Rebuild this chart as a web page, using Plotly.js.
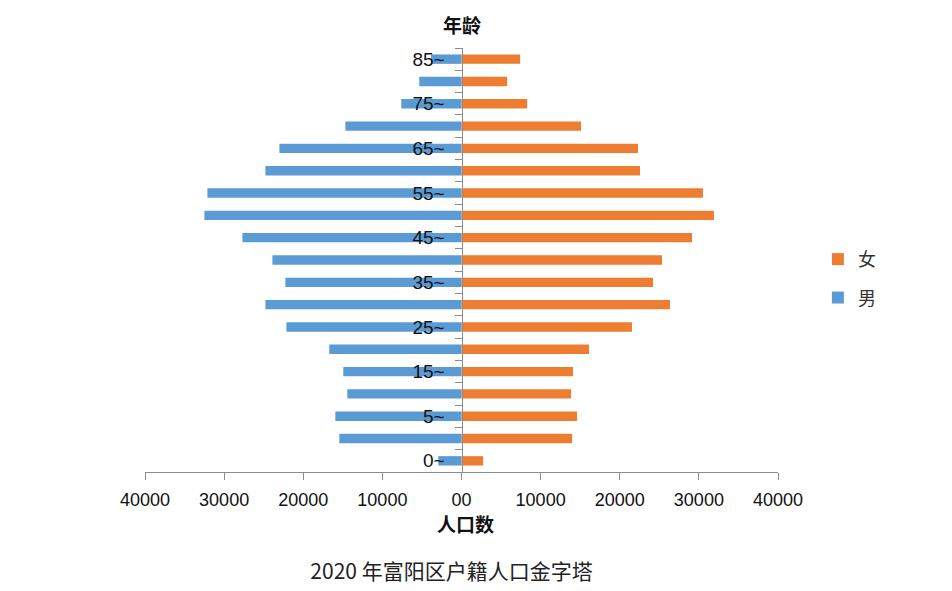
<!DOCTYPE html>
<html>
<head>
<meta charset="utf-8">
<script src="https://cdn.plot.ly/plotly-3.0.1.min.js"></script>
<style>html,body{margin:0;padding:0;background:#fff;}#chart{width:952px;height:591px;}</style>
</head>
<body>
<div id="chart"></div>
<script>
// Age groups (bottom to top)
const ageGroups = ["0~","1~","5~","10~","15~","20~","25~","30~","35~","40~","45~","50~","55~","60~","65~","70~","75~","80~","85~"];
// Male population (shown to the left)
const male = [2940,15440,15940,14430,14940,16710,22130,24780,22260,23900,27690,32490,32110,24780,23010,14680,7610,5340,3850];
// Female population (shown to the right)
const female = [2740,13980,14610,13850,14100,16120,21550,26350,24200,25340,29130,31900,30510,22560,22310,15110,8295,5770,7410];
// Age labels shown on the axis
const shownAgeLabels = ["0~","5~","15~","25~","35~","45~","55~","65~","75~","85~"];
// X axis ticks
const xTickValues = [-40000,-30000,-20000,-10000,0,10000,20000,30000,40000];
const xTickLabels = ["40000","30000","20000","10000","00","10000","20000","30000","40000"];

const yIdx = ageGroups.map((_, i) => i);
const shownIdx = shownAgeLabels.map(l => ageGroups.indexOf(l));

const sans = "Liberation Sans, Arial, sans-serif";
const cjk = "Noto Sans CJK SC, sans-serif";

const traces = [
  {
    type: "bar", orientation: "h", name: "男",
    y: yIdx, x: male.map(v => -v),
    marker: {color: "#5B9BD5"}, width: 0.42,
    legendgroup: "m", legendrank: 2,
    hoverinfo: "skip"
  },
  {
    type: "bar", orientation: "h", name: "女",
    y: yIdx, x: female,
    marker: {color: "#ED7D31"}, width: 0.42,
    legendgroup: "f", legendrank: 1,
    hoverinfo: "skip"
  }
];

const axisColor = "#8c8c8c";

const layout = {
  width: 952, height: 591,
  paper_bgcolor: "#fff", plot_bgcolor: "#fff",
  margin: {l: 144.5, r: 173.7, t: 48, b: 119},
  barmode: "relative",
  showlegend: true,
  legend: {
    x: 1.063, xanchor: "left", y: 0.545, yanchor: "top",
    font: {family: cjk, size: 18, color: "#333"},
    tracegroupgap: 12, bgcolor: "rgba(0,0,0,0)"
  },
  title: {
    text: "2020 年富阳区户籍人口金字塔",
    font: {family: "Noto Sans CJK SC, serif", size: 21, color: "#222"},
    x: 461/952, xanchor: "center", xref: "paper",
    yref: "container", y: 1 - 572/591, yanchor: "middle"
  },
  xaxis: {
    range: [-40000, 40000],
    tickmode: "array", tickvals: xTickValues, ticktext: xTickLabels,
    ticks: "outside", ticklen: 7, tickcolor: axisColor, tickwidth: 1,
    showline: true, linecolor: axisColor, linewidth: 1,
    showgrid: false, zeroline: false,
    tickfont: {family: sans, size: 18, color: "#111"},
    ticklabelstandoff: 4,
    fixedrange: true
  },
  yaxis: {
    range: [-0.5, 18.5],
    anchor: "free", position: 0.5,
    tickmode: "array", tickvals: shownIdx, ticktext: shownAgeLabels,
    ticks: "outside", ticklen: 7, tickcolor: "rgba(0,0,0,0)",
    minor: {tickmode: "linear", tick0: -0.5, dtick: 1, ticks: "outside", ticklen: 7, tickcolor: axisColor, tickwidth: 1, showgrid: false},
    ticklabelstandoff: 6,
    showline: true, linecolor: axisColor, linewidth: 1,
    showgrid: false, zeroline: false,
    tickfont: {family: sans, size: 19, color: "#111"},
    fixedrange: true
  },
  annotations: [
    {text: "<b>年龄</b>", xref: "paper", yref: "paper", x: 0.5, y: 1 + 23/424, xanchor: "center", yanchor: "middle",
     showarrow: false, font: {family: cjk, size: 19, color: "#111"}},
    {text: "<b>人口数</b>", xref: "paper", yref: "paper", x: (465-144.5)/633.8, y: -(523-472)/424, xanchor: "center", yanchor: "middle",
     showarrow: false, font: {family: cjk, size: 19, color: "#111"}}
  ]
};

Plotly.newPlot("chart", traces, layout, {displayModeBar: false, staticPlot: true});
</script>
</body>
</html>
